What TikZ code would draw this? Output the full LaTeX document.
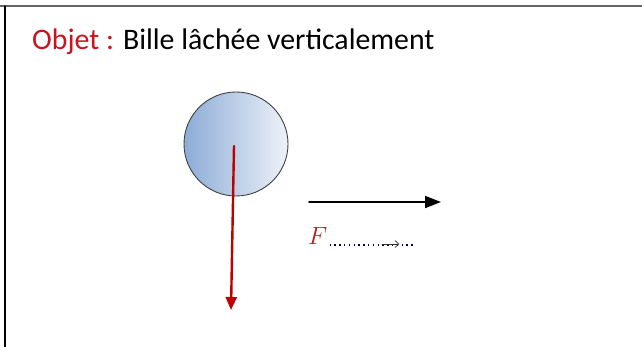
\documentclass[tikz,border=0pt]{standalone}
\usepackage{fontspec}
\setmainfont{Carlito}
\usetikzlibrary{arrows.meta}
\definecolor{objred}{RGB}{200,20,30}
\definecolor{arrowred}{RGB}{192,0,0}
\definecolor{ballblue}{RGB}{140,172,214}
\definecolor{balllight}{RGB}{238,242,249}

\begin{document}
\begin{tikzpicture}[x=1pt, y=-1pt, line join=round, line cap=round]
    \useasboundingbox (0,0) rectangle (642,347);
    % cadre
    \draw[gray!80!black, line width=1.6pt] (0,6) -- (642,6);
    \draw[black, line width=1.4pt] (5,6) -- (5,347);

    % titre
    \node[anchor=base west, inner sep=0pt, font=\fontsize{29.8}{34}\selectfont] (titre) at (32,50)
        {\textcolor{objred}{Objet :} Bille lâchée verticalement};

    % bille
    \coordinate (O) at (236,144);
    \shade[left color=ballblue, right color=balllight] (O) circle (52);
    \draw[black!75, line width=0.9pt] (O) circle (52);

    % poids
    \coordinate (G) at (234,146);
    \coordinate (P) at (231,310);
    \draw[arrowred, line width=2.4pt, -{Triangle[length=13pt, width=11pt]}] (G) -- (P);

    % vecteur horizontal
    \coordinate (V1) at (309,202);
    \coordinate (V2) at (441,202);
    \draw[black, line width=1.8pt, -{Triangle[length=16pt, width=12pt]}] (V1) -- (V2);

    % force
    \node[anchor=base west, inner sep=0pt, text=objred, font=\fontsize{27}{32}\selectfont] (F) at (308,245) {$F$};
    \coordinate (D1) at ([xshift=2pt]F.base east);
    \coordinate (D2) at (414,245);
    \draw[black!75!blue, line width=1.5pt, line cap=butt, dash pattern=on 1.5pt off 3.3pt] (D1) -- (D2);
    \coordinate (A1) at (382,244);
    \coordinate (A2) at (399,244);
    \draw[black!80, line width=0.7pt, -{Straight Barb[length=3.5pt]}] (A1) -- (A2);
\end{tikzpicture}
\end{document}
